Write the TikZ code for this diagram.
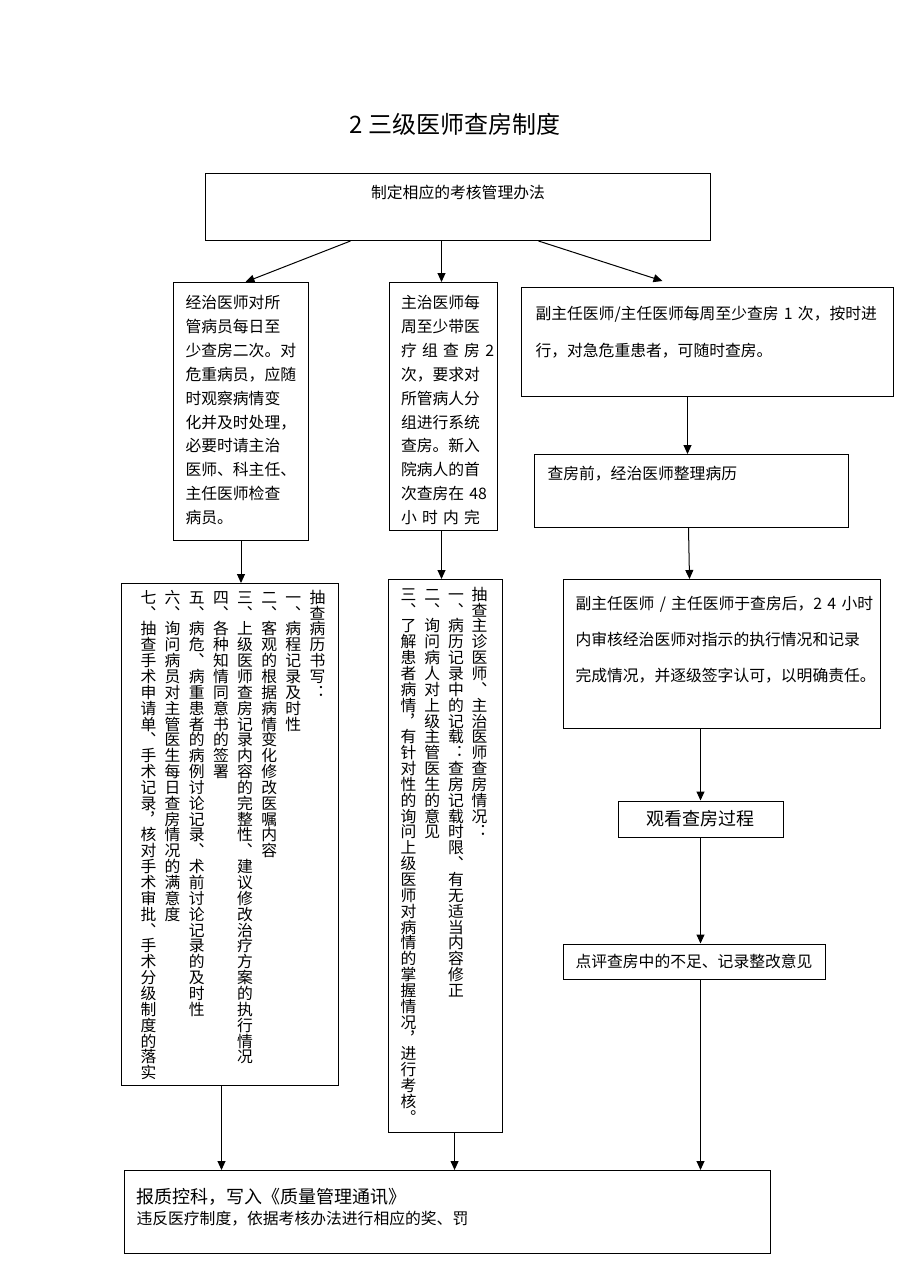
\documentclass[tikz,border=0pt]{standalone}
\usepackage{fontspec}
\usetikzlibrary{arrows.meta}
\newfontfamily\cjk{Noto Sans CJK SC}
\newfontfamily\cjkv[RawFeature=+vert]{Noto Sans CJK SC}
% one column of upright characters, read from top to bottom
\newcommand{\vcol}[1]{\vtop{\offinterlineskip\vcolnext#1\relax}}
\def\vcolnext#1{\ifx\relax#1\else\hbox to 16pt{\vrule width 0pt height 12.7pt depth 3.15pt\hss\smash{#1}\hss}\expandafter\vcolnext\fi}

\begin{document}
\begin{tikzpicture}[x=1pt,y=-1pt,
  panel/.style={draw, line width=1pt, inner sep=0pt, anchor=north west},
  txt/.style={panel, align=left, font=\cjk\fontsize{15.8}{23.9}\selectfont},
  vtxt/.style={panel, font=\cjkv\fontsize{15.8}{15.8}\selectfont},
  tag/.style={draw, line width=1pt, inner sep=0pt},
  arr/.style={line width=1pt, -{Triangle[length=9pt,width=8pt]}}]
  \path[use as bounding box, fill=white] (0,0) rectangle (910,1287);

  \node[font=\cjk\fontsize{24}{24}\selectfont] (title) at (455,124) {2 三级医师查房制度};

  \node[txt, align=center, text width=505pt, text height=25pt, text depth=42pt] (rules) at (205,173) {制定相应的考核管理办法};

  \node[txt, inner xsep=12pt, text width=111pt, text height=26pt, text depth=232pt] (resident) at (173,282) {经治医师对所\\管病员每日至\\少查房二次。对\\危重病员，应随\\时观察病情变\\化并及时处理，\\必要时请主治\\医师、科主任、\\主任医师检查\\病员。};
  \node[txt, inner xsep=11.5pt, text width=85pt, text height=26pt, text depth=222pt] (attending) at (389,282) {主治医师每\\周至少带医\\\makebox[85pt][s]{疗 组 查 房 2}\\次，要求对\\所管病人分\\组进行系统\\查房。新入\\院病人的首\\\mbox{次查房在 48}\\\makebox[85pt][s]{小 时 内 完}};
  \node[txt, inner xsep=14pt, text width=344pt, text height=32pt, text depth=77pt] (chief) at (521,287) {副主任医师/主任医师每周至少查房 1 次，按时进\\[13pt]行，对急危重患者，可随时查房。};

  \node[txt, inner xsep=13pt, text width=288pt, text height=25pt, text depth=48pt] (prepare) at (534,454) {查房前，经治医师整理病历};
  \node[txt, inner xsep=12pt, text width=293pt, text height=30pt, text depth=119pt] (review) at (563,579) {\mbox{副主任医师 / 主任医师于查房后，2 4 小时}\\[12pt]内审核经治医师对指示的执行情况和记录\\[12pt]完成情况，并逐级签字认可，以明确责任。};
  \node[tag, minimum width=165pt, minimum height=36pt, font=\cjk\fontsize{18}{18}\selectfont] (watch) at (700.5,819) {观看查房过程};
  \node[tag, minimum width=262pt, minimum height=35pt, font=\cjk\fontsize{15.8}{15.8}\selectfont] (comment) at (694,961.5) {点评查房中的不足、记录整改意见};

  \node[vtxt, text height=19.7pt, text depth=482.3pt] (check1) at (121,583) {\hspace*{19pt}%
    \vcol{七、抽查手术申请单、手术记录，核对手术审批、手术分级制度的落实}\hspace{8.14pt}%
    \vcol{六、询问病员对主管医生每日查房情况的满意度}\hspace{8.14pt}%
    \vcol{五、病危、病重患者的病例讨论记录、术前讨论记录的及时性}\hspace{8.14pt}%
    \vcol{四、各种知情同意书的签署}\hspace{8.14pt}%
    \vcol{三、上级医师查房记录内容的完整性、建议修改治疗方案的执行情况}\hspace{8.14pt}%
    \vcol{二、客观的根据病情变化修改医嘱内容}\hspace{8.14pt}%
    \vcol{一、病程记录及时性}\hspace{8.14pt}%
    \vcol{抽查病历书写：}\hspace*{13pt}};
  \node[vtxt, text height=20.7pt, text depth=532.3pt] (check2) at (388,579) {\hspace*{12pt}%
    \vcol{三、了解患者病情，有针对性的询问上级医师对病情的掌握情况，进行考核。}\hspace{7.7pt}%
    \vcol{二、询问病人对上级主管医生的意见}\hspace{7.7pt}%
    \vcol{一、病历记录中的记载：查房记载时限、有无适当内容修正}\hspace{7.7pt}%
    \vcol{抽查主诊医师、主治医师查房情况：}\hspace*{15pt}};

  \node[txt, inner xsep=12pt, text width=622pt, text height=33pt, text depth=50pt] (report) at (124,1170) {{\fontsize{18}{18}\selectfont 报质控科，写入《质量管理通讯》}\\[-3pt]违反医疗制度，依据考核办法进行相应的奖、罚};

  \draw[arr] ([xshift=-107.5pt]rules.south) -- ([xshift=4.5pt]resident.north);
  \draw[arr] ([xshift=-2pt]attending.north |- rules.south) -- ([xshift=-2pt]attending.north);
  \draw[arr] ([xshift=80.5pt]rules.south) -- ([xshift=-45pt,yshift=6pt]chief.north);
  \draw[arr] (resident.south) -- (resident.south |- check1.north);
  \draw[arr] ([xshift=-2pt]attending.south) -- ([xshift=-2pt]attending.south |- check2.north);
  \draw[arr] ([xshift=-20pt]chief.south) -- ([xshift=-20pt]chief.south |- prepare.north);
  \draw[arr] ([xshift=-3pt]prepare.south) -- ([xshift=-2pt]prepare.south |- review.north);
  \draw[arr] (watch.north |- review.south) -- (watch.north);
  \draw[arr] (watch.south) -- (watch.south |- comment.north);
  \draw[arr] (watch.south |- comment.south) -- (watch.south |- report.north);
  \draw[arr] ([xshift=-8.5pt]check1.south) -- ([xshift=-8.5pt]check1.south |- report.north);
  \draw[arr] ([xshift=9pt]check2.south) -- ([xshift=9pt]check2.south |- report.north);
\end{tikzpicture}
\end{document}
